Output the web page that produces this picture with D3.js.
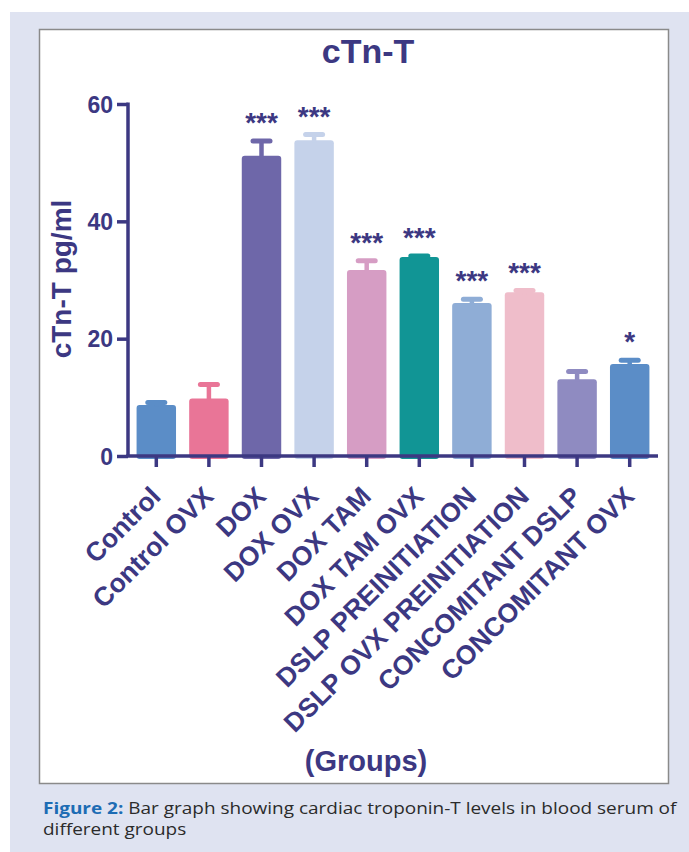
<!DOCTYPE html>
<html>
<head>
<meta charset="utf-8">
<script src="https://cdn.jsdelivr.net/npm/d3@7"></script>
<style>
  html, body { margin: 0; padding: 0; background: #ffffff; }
  svg { display: block; }
</style>
</head>
<body>
<svg id="chart" width="689" height="852"></svg>
<script>
// Serum cardiac troponin-T (pg/ml) per treatment group: mean and SEM
const categories = [
  "Control", "Control OVX", "DOX", "DOX OVX", "DOX TAM", "DOX TAM OVX",
  "DSLP PREINITIATION", "DSLP OVX PREINITIATION", "CONCOMITANT DSLP", "CONCOMITANT OVX"
];
const means = [8.7, 9.8, 51.2, 53.8, 31.7, 33.9, 26.1, 27.9, 13.1, 15.7];
const sems = [0.4, 2.4, 2.5, 1.0, 1.6, 0.2, 0.6, 0.3, 1.3, 0.6];
const significance = ["", "", "***", "***", "***", "***", "***", "***", "", "*"];
const barColors = [
  "#5b8dc7", "#e97597", "#6e67a9", "#c5d2ea", "#d69dc4",
  "#119595", "#8fadd6", "#efbdca", "#8f8bc1", "#5b8dc7"
];
const yTicks = [0, 20, 40, 60];

const ink = "#3c3882";
const svg = d3.select("#chart");

// page panel and chart frame
svg.append("rect").attr("x", 10).attr("y", 12).attr("width", 679).attr("height", 840)
  .attr("fill", "#dfe3f1");
svg.append("rect").attr("x", 39.5).attr("y", 29.5).attr("width", 629).attr("height", 754)
  .attr("fill", "#ffffff").attr("stroke", "#8a8a8a").attr("stroke-width", 1.5);

const x = d3.scaleBand().domain(categories).range([130, 656]).paddingInner(0.25).paddingOuter(0.125);
const y = d3.scaleLinear().domain([0, 60]).range([456, 104]);
const axisX = 128;

const g = svg.append("g");

// bars
g.selectAll("rect.bar").data(categories).join("rect")
  .attr("class", "bar")
  .attr("x", d => x(d))
  .attr("y", (d, i) => y(means[i]))
  .attr("width", x.bandwidth())
  .attr("height", (d, i) => y(0) - y(means[i]) + 3)
  .attr("rx", 3)
  .attr("fill", (d, i) => barColors[i]);

// SEM error bars (upper half, bar colour)
const cx = d => x(d) + x.bandwidth() / 2;
g.selectAll("line.stem").data(categories).join("line")
  .attr("x1", cx).attr("x2", cx)
  .attr("y1", (d, i) => y(means[i]) + 2)
  .attr("y2", (d, i) => y(means[i] + sems[i]))
  .attr("stroke", (d, i) => barColors[i]).attr("stroke-width", 4.5);
g.selectAll("line.cap").data(categories).join("line")
  .attr("x1", d => cx(d) - 8.5).attr("x2", d => cx(d) + 8.5)
  .attr("y1", (d, i) => y(means[i] + sems[i]))
  .attr("y2", (d, i) => y(means[i] + sems[i]))
  .attr("stroke", (d, i) => barColors[i]).attr("stroke-width", 5)
  .attr("stroke-linecap", "round");

// significance marks
g.selectAll("text.sig").data(categories).join("text")
  .attr("class", "sig")
  .attr("x", cx)
  .attr("y", (d, i) => y(means[i] + sems[i]) - 9)
  .attr("text-anchor", "middle")
  .attr("font-family", "Liberation Sans, Arial, sans-serif")
  .attr("font-weight", "bold").attr("font-size", 28)
  .attr("fill", ink)
  .text((d, i) => significance[i]);

// y axis
const yAxis = svg.append("g").attr("transform", `translate(${axisX},0)`)
  .call(d3.axisLeft(y).tickValues(yTicks).tickSize(11).tickSizeOuter(0).tickPadding(4));
yAxis.select(".domain").remove();
yAxis.append("line").attr("x1", 0).attr("x2", 0).attr("y1", y(60) - 1.5).attr("y2", y(0))
  .attr("stroke", ink).attr("stroke-width", 3.5);
yAxis.selectAll(".tick line").attr("stroke", ink).attr("stroke-width", 3.5);
yAxis.selectAll(".tick text")
  .attr("fill", ink).attr("font-family", "Liberation Sans, Arial, sans-serif")
  .attr("font-weight", "bold").attr("font-size", 23).attr("dy", "0.36em");

// x axis
const xAxis = svg.append("g").attr("transform", `translate(0,${y(0)})`)
  .call(d3.axisBottom(x).tickSize(11).tickSizeOuter(0).tickFormat(""));
xAxis.select(".domain").remove();
xAxis.append("line").attr("x1", axisX - 1.75).attr("x2", 658).attr("y1", 0).attr("y2", 0)
  .attr("stroke", ink).attr("stroke-width", 3.5);
xAxis.selectAll(".tick line").attr("stroke", ink).attr("stroke-width", 3.5);

// rotated group labels
svg.append("g").selectAll("text").data(categories).join("text")
  .attr("transform", d => `translate(${cx(d) + 6},${y(0) + 42}) rotate(-45)`)
  .attr("text-anchor", "end")
  .attr("font-family", "Liberation Sans, Arial, sans-serif")
  .attr("font-weight", "bold").attr("font-size", 26.5)
  .attr("fill", ink)
  .text(d => d);

// titles
svg.append("text").attr("x", 368).attr("y", 62.5).attr("text-anchor", "middle")
  .attr("font-family", "Liberation Sans, Arial, sans-serif").attr("font-weight", "bold")
  .attr("font-size", 34).attr("fill", ink).text("cTn-T");
svg.append("text").attr("transform", "translate(70.5,279) rotate(-90)").attr("text-anchor", "middle")
  .attr("font-family", "Liberation Sans, Arial, sans-serif").attr("font-weight", "bold")
  .attr("font-size", 28).attr("fill", ink).text("cTn-T pg/ml");
svg.append("text").attr("x", 366).attr("y", 771).attr("text-anchor", "middle")
  .attr("font-family", "Liberation Sans, Arial, sans-serif").attr("font-weight", "bold")
  .attr("font-size", 29).attr("fill", ink).text("(Groups)");

// figure caption (condensed to the frame width)
function captionLine(yPos, parts) {
  const t = svg.append("text").attr("x", 0).attr("y", 0)
    .attr("font-family", "Open Sans, Noto Sans, sans-serif").attr("font-size", 15.5);
  parts.forEach(p => t.append("tspan")
    .attr("font-weight", p.bold ? "bold" : "normal")
    .attr("fill", p.bold ? "#1d6cb4" : "#2b2b2b")
    .text(p.text));
  return t;
}
const line1 = captionLine(814, [{ text: "Figure 2:", bold: true }, { text: " Bar graph showing cardiac troponin-T levels in blood serum of" }]);
const sc = 634 / line1.node().getComputedTextLength();
line1.attr("transform", `translate(43,814) scale(${sc},1)`);
const line2 = captionLine(835, [{ text: "different groups" }]);
line2.attr("transform", `translate(43,835) scale(${sc},1)`);
</script>
</body>
</html>
